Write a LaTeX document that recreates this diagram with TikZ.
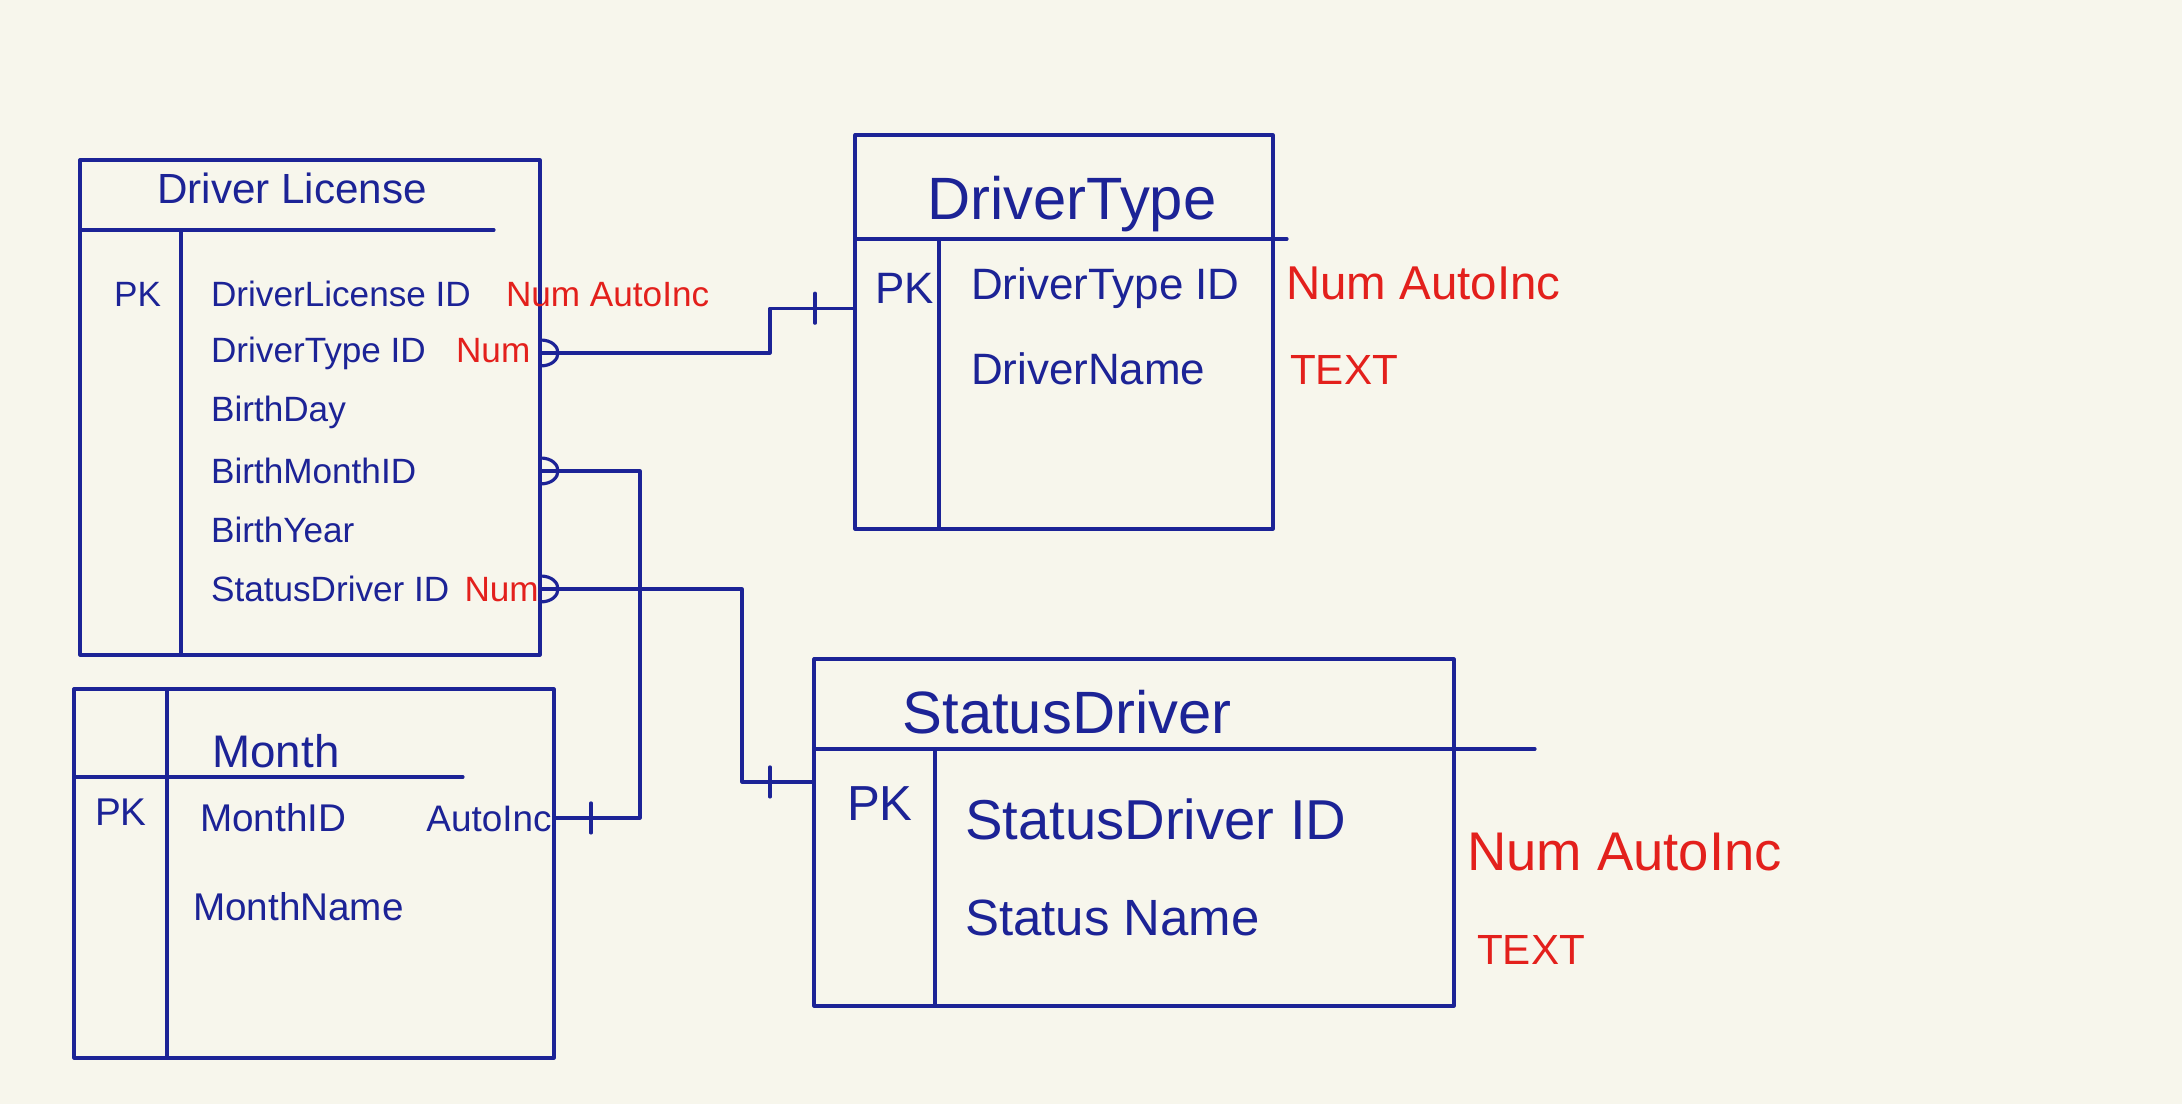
\documentclass[tikz,border=0pt]{standalone}
\usepackage{fontspec}
\setmainfont{Liberation Sans}
\usetikzlibrary{positioning,calc}
\definecolor{paper}{HTML}{F7F6EC}
\definecolor{ink}{HTML}{1C2396}
\definecolor{pen}{HTML}{E3201C}
\newcommand{\txtsize}[1]{\fontsize{#1}{#1}\selectfont}
\tikzset{
  tbl/.style={draw=ink, inner sep=0pt, outer sep=0pt},
  attr/.style={text=ink, anchor=west, inner sep=1pt},
  note/.style={text=pen, anchor=west, inner sep=1pt},
  many/.pic={\draw (0,0.13) .. controls (0.24,0.13) and (0.24,-0.13) .. (0,-0.13);}
}
\begin{document}
\begin{tikzpicture}[line width=0.9pt, line cap=round, line join=round, color=ink]
\fill[paper] (0,0) rectangle (21.82,11.04);
\useasboundingbox (0,0) rectangle (21.82,11.04);

% Driver License
\node[tbl, minimum width=4.6cm, minimum height=4.95cm] (dl) at (3.10,6.965) {};
\draw ($(dl.north west)+(0,-0.7)$) -- ++(4.14,0);
\draw ($(dl.north west)+(1.01,-0.7)$) -- ($(dl.south west)+(1.01,0)$);
\node[font=\txtsize{12}] (dlname) at (2.92,9.16) {Driver License};
\node[attr, font=\txtsize{10}] (dlpk) at (1.09,8.10) {PK};
\foreach \lbl/\n [count=\i] in {DriverLicense ID/id, DriverType ID/type, BirthDay/day,
    BirthMonthID/month, BirthYear/year, StatusDriver ID/status}
  \node[attr, font=\txtsize{10}] (dl\n) at (2.06,{8.10-0.59*(\i-1)}) {\lbl};
\node[note, font=\txtsize{10}, base right=0.25cm of dlid] (dlidtype) {Num AutoInc};
\node[note, font=\txtsize{10}, base right=0.2cm of dltype] (dltypetype) {Num};
\node[note, font=\txtsize{10}, base right=0.05cm of dlstatus] (dlstatustype) {Num};

% DriverType
\node[tbl, minimum width=4.18cm, minimum height=3.94cm] (dt) at (10.64,7.72) {};
\draw ($(dt.north west)+(0,-1.04)$) -- ++(4.32,0);
\draw ($(dt.north west)+(0.84,-1.04)$) -- ($(dt.south west)+(0.84,0)$);
\node[font=\txtsize{17}] (dtname) at (10.72,9.0) {DriverType};
\node[attr, font=\txtsize{12.5}] (dtpk) at (8.70,8.16) {PK};
\node[attr, font=\txtsize{12.5}] (dtid) at (9.66,8.16) {DriverType ID};
\node[attr, font=\txtsize{12.5}] (dtdesc) at (9.66,7.35) {DriverName};
\node[note, font=\txtsize{13.5}, anchor=base west, xshift=0.08cm] (dtidtype) at (dt.east |- dtid.base) {Num AutoInc};
\node[note, font=\txtsize{12}, anchor=base west, xshift=0.12cm] (dtdesctype) at (dt.east |- dtdesc.base) {TEXT};

% Month
\node[tbl, minimum width=4.8cm, minimum height=3.69cm] (mo) at (3.14,2.305) {};
\draw ($(mo.north west)+(0,-0.88)$) -- ++(3.89,0);
\draw ($(mo.north west)+(0.93,0)$) -- ($(mo.south west)+(0.93,0)$);
\node[font=\txtsize{13}] (moname) at (2.76,3.53) {Month};
\node[attr, font=\txtsize{11}] (mopk) at (0.90,2.92) {PK};
\node[attr, font=\txtsize{11}] (moid) at (1.95,2.86) {MonthID};
\node[attr, font=\txtsize{10.5}, base right=0.7cm of moid] (moidtype) {AutoInc};
\node[attr, font=\txtsize{11}] (modesc) at (1.88,1.97) {MonthName};

% StatusDriver
\node[tbl, minimum width=6.4cm, minimum height=3.47cm] (sd) at (11.34,2.715) {};
\draw ($(sd.north west)+(0,-0.9)$) -- ++(7.21,0);
\draw ($(sd.north west)+(1.21,-0.9)$) -- ($(sd.south west)+(1.21,0)$);
\node[font=\txtsize{17}] (sdname) at (10.67,3.92) {StatusDriver};
\node[attr, font=\txtsize{14}] (sdpk) at (8.42,3.0) {PK};
\node[attr, font=\txtsize{16}] (sdid) at (9.60,2.85) {StatusDriver ID};
\node[attr, font=\txtsize{14.5}] (sddesc) at (9.60,1.86) {Status Name};
\node[note, font=\txtsize{15.5}] (sdidtype) at (14.62,2.52) {Num AutoInc};
\node[note, font=\txtsize{12}] (sddesctype) at (14.72,1.54) {TEXT};

% relations
\pic at (dl.east |- dltype) {many};
\draw (dl.east |- dltype) -- ++(2.3,0) |- (dt.west |- dtpk.south);
\draw ($(dt.west |- dtpk.south)+(-0.4,-0.15)$) -- ++(0,0.3);
\pic at (dl.east |- dlmonth) {many};
\draw (dl.east |- dlmonth) -- ++(1.0,0) |- (mo.east |- moid);
\draw ($(mo.east |- moid)+(0.37,-0.15)$) -- ++(0,0.3);
\pic at (dl.east |- dlstatus) {many};
\draw (dl.east |- dlstatus) -- ++(2.02,0) |- (sd.west |- sdpk.north);
\draw ($(sd.west |- sdpk.north)+(-0.44,-0.15)$) -- ++(0,0.3);
\end{tikzpicture}
\end{document}
